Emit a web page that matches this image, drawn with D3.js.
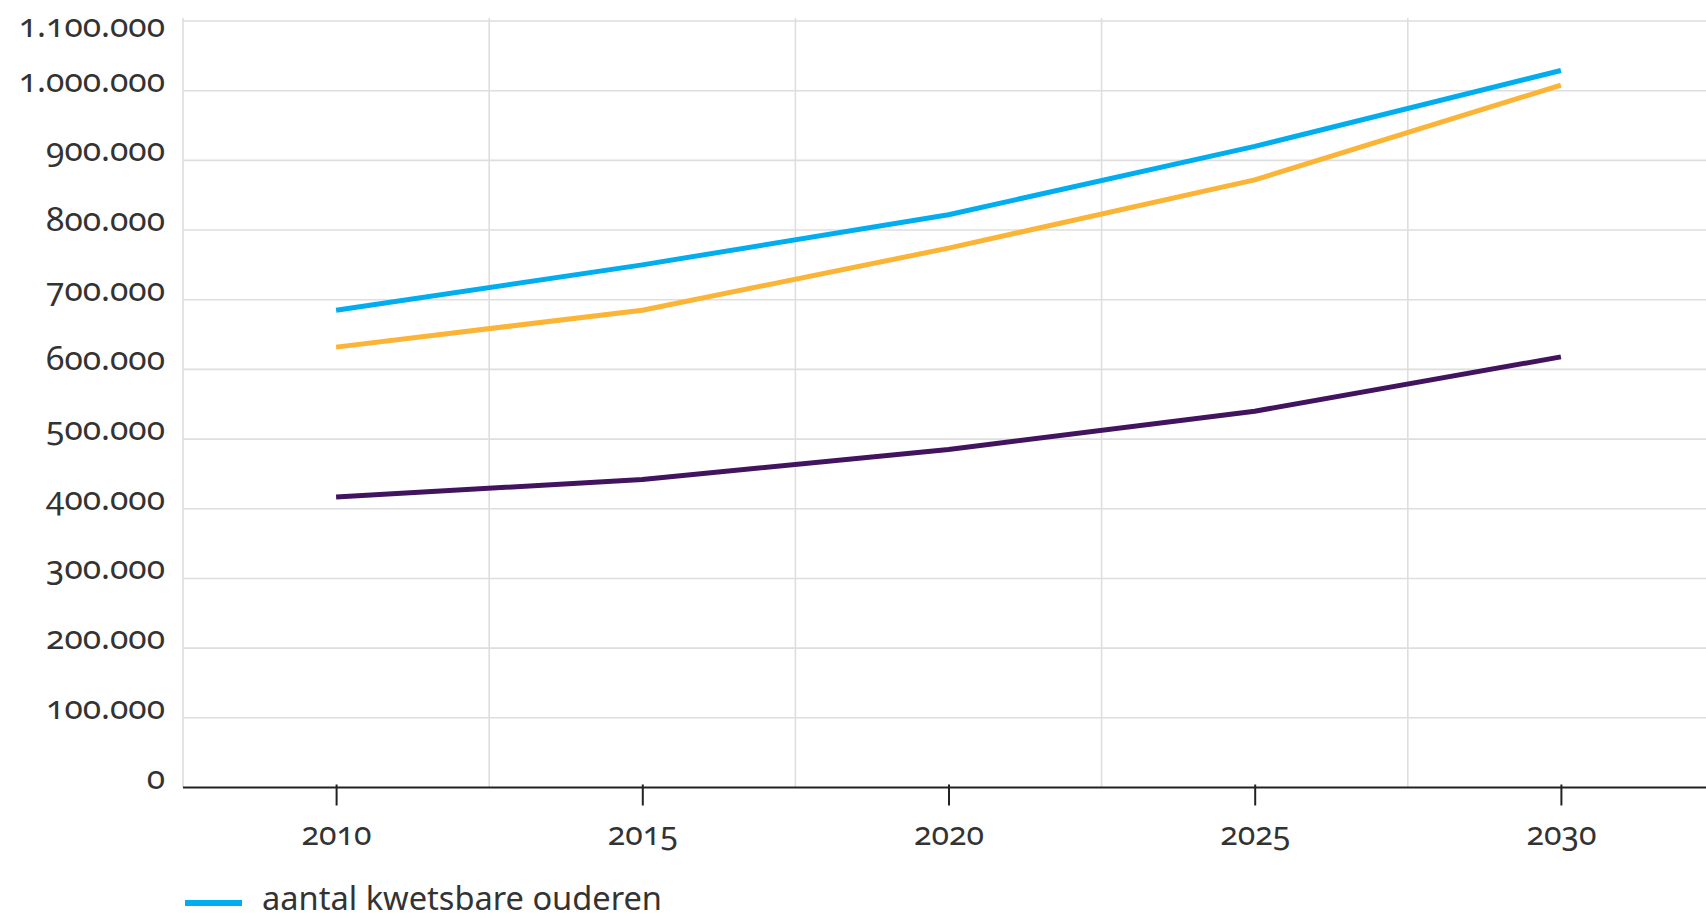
<!DOCTYPE html>
<html>
<head>
<meta charset="utf-8">
<script src="https://cdn.jsdelivr.net/npm/d3@7"></script>
<style>
  body { margin: 0; background: #fff; }
  svg text { font-family: "Noto Sans", sans-serif; fill: #333; font-variant-numeric: oldstyle-nums; }
</style>
</head>
<body>
<svg width="1706" height="920"></svg>
<script>
// data
const years = [2010, 2015, 2020, 2025, 2030];
const kwetsbaar = [685000, 750000, 822000, 920000, 1029000];
const reeksOranje = [632000, 685000, 774000, 872000, 1008000];
const reeksPaars = [417000, 442000, 485000, 540000, 618000];
const yTicks = [0, 100000, 200000, 300000, 400000, 500000, 600000, 700000, 800000, 900000, 1000000, 1100000];
const seriesNames = ["aantal kwetsbare ouderen", "reeks 2", "reeks 3"];
const colors = ["#00aeef", "#fbb436", "#42145f"];

const series = [kwetsbaar, reeksOranje, reeksPaars].map((vals, i) => ({
    name: seriesNames[i],
    color: colors[i],
    values: vals.map((v, j) => ({ year: years[j], value: v }))
}));

const svg = d3.select("svg");

// x runs half a period either side of the years, plot is cut off at the right
const x = d3.scaleLinear().domain([2007.5, 2032.5]).range([183, 1714]);
const y = d3.scaleLinear().domain([0, 1100000]).range([787.5, 21]);

const fmt = v => d3.format(",")(v).replace(/,/g, ".");

// horizontal gridlines
svg.append("g")
    .selectAll("line")
    .data(yTicks.filter(d => d > 0))
    .enter().append("line")
    .attr("x1", x(2007.5))
    .attr("x2", 1706)
    .attr("y1", d => y(d))
    .attr("y2", d => y(d))
    .style("stroke", "#dedede")
    .style("stroke-width", 1.6);

// vertical gridlines between the years
const vLines = [2007.5, 2012.5, 2017.5, 2022.5, 2027.5];
svg.append("g")
    .selectAll("line")
    .data(vLines)
    .enter().append("line")
    .attr("x1", d => x(d))
    .attr("x2", d => x(d))
    .attr("y1", y(1100000) - 3)
    .attr("y2", y(0))
    .style("stroke", "#dedede")
    .style("stroke-width", 1.6);

// y labels (top one pushed down so it stays inside the picture)
svg.append("g")
    .selectAll("text")
    .data(yTicks)
    .enter().append("text")
    .attr("x", 165)
    .attr("y", d => Math.max(y(d) + 1, 37))
    .attr("text-anchor", "end")
    .style("font-size", "33.5px")
    .text(fmt);

// lines
const line = d3.line()
    .x(d => x(d.year))
    .y(d => y(d.value));

svg.append("g")
    .selectAll("path")
    .data(series.slice().reverse())
    .enter().append("path")
    .attr("d", d => line(d.values))
    .style("fill", "none")
    .style("stroke", d => d.color)
    .style("stroke-width", 5)
    .style("stroke-linejoin", "round");

// x axis
const xAxis = svg.append("g")
    .attr("transform", `translate(0,${y(0)})`)
    .call(d3.axisBottom(x).tickValues(years).tickSize(18).tickSizeOuter(0).tickFormat(d3.format("d")));
xAxis.select(".domain").remove();
xAxis.append("line")
    .attr("x1", x(2007.5))
    .attr("x2", 1706)
    .style("stroke", "#222")
    .style("stroke-width", 2.2);
xAxis.selectAll(".tick line")
    .attr("y1", -3)
    .style("stroke", "#222")
    .style("stroke-width", 2);
xAxis.selectAll(".tick text")
    .attr("y", 57)
    .attr("dy", 0)
    .style("font-size", "32px")
    .style("fill", "#333");

// legend (only the first entry is visible)
const legend = svg.append("g").attr("transform", "translate(185,903)");
legend.append("line")
    .attr("x1", 0)
    .attr("x2", 57)
    .style("stroke", series[0].color)
    .style("stroke-width", 6);
legend.append("text")
    .attr("x", 77)
    .attr("y", 7)
    .attr("textLength", 400)
    .attr("lengthAdjust", "spacingAndGlyphs")
    .style("font-size", "32px")
    .text(series[0].name);
</script>
</body>
</html>
